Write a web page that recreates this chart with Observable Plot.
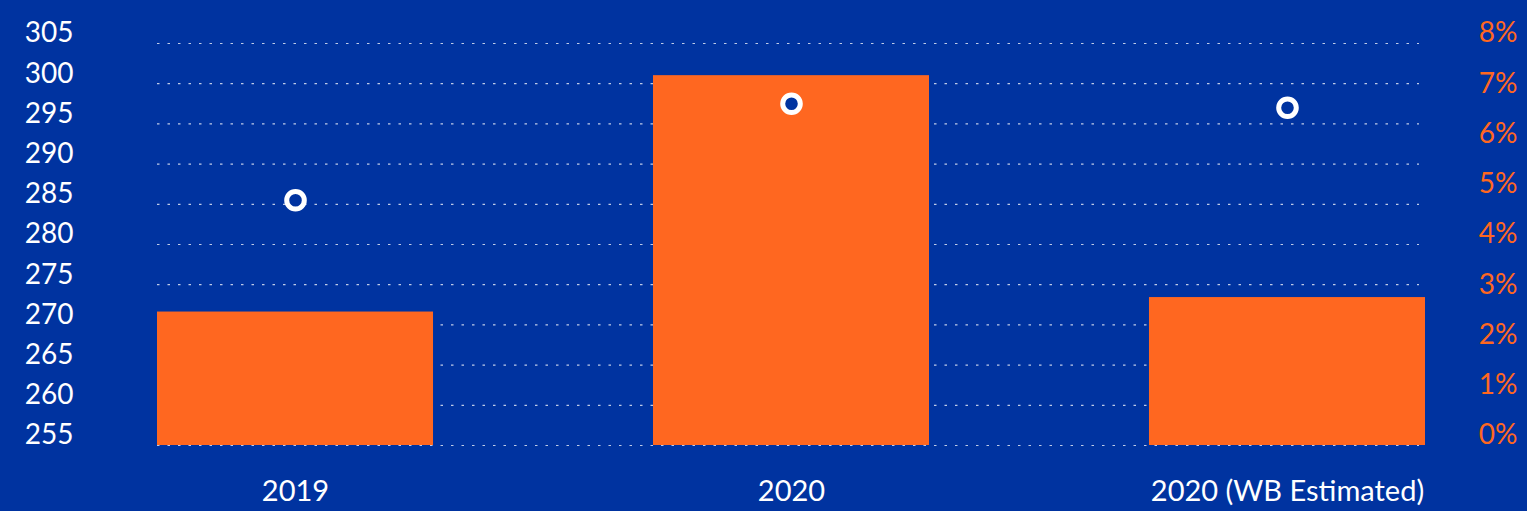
<!DOCTYPE html>
<html>
<head>
<meta charset="utf-8">
<script src="https://cdn.jsdelivr.net/npm/d3@7"></script>
<script src="https://cdn.jsdelivr.net/npm/@observablehq/plot@0.6"></script>
<style>
  html, body { margin: 0; padding: 0; background: #0033A0; }
  #chart { width: 1527px; height: 511px; overflow: hidden; }
</style>
</head>
<body>
<div id="chart"></div>
<script>
// Data
const categories = ["2019", "2020", "2020 (WB Estimated)"];
const barValues = [271.6, 301.0, 273.4];       // left axis
const pctValues = [4.88, 6.80, 6.72];          // right axis (%)
const leftTicks = [255, 260, 265, 270, 275, 280, 285, 290, 295, 300, 305];
const rightTicks = [0, 1, 2, 3, 4, 5, 6, 7, 8];

const yMin = 255, yMax = 305, pMax = 8;
const pctToY = p => yMin + p * (yMax - yMin) / pMax;

const bars = categories.map((c, i) => ({cat: c, v: barValues[i]}));
const dots = categories.map((c, i) => ({cat: c, p: pctValues[i]}));

const BG = "#0033A0";
const ORANGE = "#FF6720";
const FONT = "Lato, sans-serif";

const chart = Plot.plot({
  width: 1527,
  height: 511,
  marginLeft: 157,
  marginRight: 102,
  marginTop: 43,
  marginBottom: 66,
  style: {background: BG, fontFamily: FONT, fontSize: "27px", color: "white"},
  x: {domain: categories, paddingInner: 0.4435, paddingOuter: 0, round: false, label: null},
  y: {domain: [yMin, yMax], label: null},
  marks: [
    Plot.gridY(leftTicks, {stroke: "#ffffff", strokeOpacity: 0.75, strokeWidth: 1.2, strokeDasharray: "2.5,8", insetRight: 6}),
    Plot.barY(bars, {x: "cat", y1: yMin, y2: "v", fill: ORANGE}),
    Plot.dot(dots, {x: "cat", y: d => pctToY(d.p), r: 8.8, stroke: "white", strokeWidth: 5, fill: BG}),
    Plot.axisY({anchor: "left", ticks: leftTicks, tickSize: 0, tickPadding: 84, dy: -10, fill: "white", fontSize: 28, label: null}),
    Plot.axisY({anchor: "right", ticks: rightTicks.map(pctToY), tickFormat: (d, i) => rightTicks[i] + "%", tickSize: 0, tickPadding: 92, textAnchor: "end", dy: -10, fill: ORANGE, fontSize: 28, label: null}),
    Plot.axisX({anchor: "bottom", tickSize: 0, tickPadding: 35, fill: "white", fontSize: 29, label: null})
  ]
});

document.getElementById("chart").appendChild(chart);
</script>
</body>
</html>
